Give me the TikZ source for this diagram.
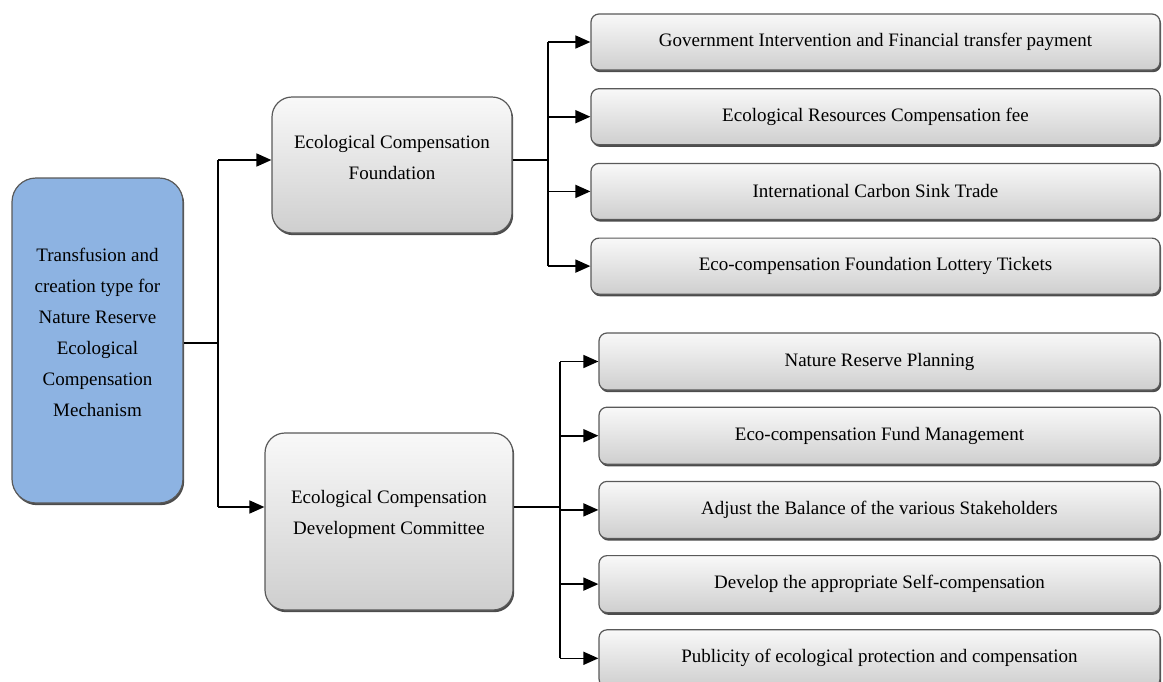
\documentclass[tikz,border=0pt]{standalone}
\usepackage{fontspec}
\setmainfont{Liberation Serif}
\usetikzlibrary{positioning,arrows.meta,shadows}
\definecolor{rootblue}{HTML}{8DB3E2}

\begin{document}
\begin{tikzpicture}[
  x=0.5pt, y=-0.5pt,
  boxbase/.style={
    draw=gray!70!black,
    line width=0.6pt,
    rounded corners=4pt,
    align=center,
    font=\fontsize{9.5}{15.5}\selectfont,
    general shadow={fill=black!70, shadow xshift=0.6pt, shadow yshift=-1.1pt}
  },
  graybox/.style={
    boxbase,
    top color=gray!5,
    bottom color=gray!38
  },
  rootbox/.style={
    boxbase,
    fill=rootblue,
    rounded corners=12pt,
    minimum width=85.5pt,
    minimum height=162.5pt
  },
  midbox/.style={
    graybox,
    rounded corners=10pt
  },
  fundbox/.style={
    graybox,
    minimum width=284.5pt,
    minimum height=28pt
  },
  commbox/.style={
    graybox,
    minimum width=280.5pt,
    minimum height=28.5pt
  },
  link/.style={line width=0.8pt},
  arr/.style={link, -{Triangle[length=7.5pt, width=6.5pt]}}
]
\useasboundingbox (0,0) rectangle (1163,681);

% left and middle column
\node[rootbox] (root) at (97.5,340.5) {Transfusion and\\creation type for\\Nature Reserve\\Ecological\\Compensation\\Mechanism\\[-7.5pt]\mbox{}};
\node[midbox, minimum width=120pt, minimum height=68pt] (ecf) at (392,165) {Ecological Compensation\\Foundation\\[-7.5pt]\mbox{}};
\node[midbox, minimum width=124pt, minimum height=88.5pt] (ecdc) at (389,521.5) {Ecological Compensation\\Development Committee\\[-6pt]\mbox{}};

% foundation sources
\node[fundbox] (fd1) at (875.5,42) {Government Intervention and Financial transfer payment};
\node[fundbox, below=8.75pt of fd1] (fd2) {Ecological Resources Compensation fee};
\node[fundbox, below=8.75pt of fd2] (fd3) {International Carbon Sink Trade};
\node[fundbox, below=8.75pt of fd3] (fd4) {Eco-compensation Foundation Lottery Tickets};

% committee tasks
\node[commbox] (cm1) at (879.5,361.5) {Nature Reserve Planning};
\node[commbox, below=8pt of cm1] (cm2) {Eco-compensation Fund Management};
\node[commbox, below=8pt of cm2] (cm3) {Adjust the Balance of the various Stakeholders};
\node[commbox, below=8pt of cm3] (cm4) {Develop the appropriate Self-compensation};
\node[commbox, below=8pt of cm4] (cm5) {Publicity of ecological protection and compensation};

% connectors
\coordinate (ecf-in) at ([yshift=2.5pt]ecf.west);
\coordinate (ecf-out) at ([yshift=2.5pt]ecf.east);
\coordinate (ecdc-in) at ([yshift=7.25pt]ecdc.west);
\coordinate (ecdc-out) at ([yshift=7.25pt]ecdc.east);
\coordinate (rootfork) at (218,343);
\coordinate (fundfork) at (548,160);
\coordinate (commfork) at (560,507);

\draw[link] (root.east |- rootfork) -- (rootfork);
\draw[link] (rootfork |- ecf-in) -- (rootfork |- ecdc-in);
\draw[arr] (rootfork |- ecf-in) -- (ecf-in);
\draw[arr] (rootfork |- ecdc-in) -- (ecdc-in);

\draw[link] (ecf-out) -- (fundfork);
\draw[link] (fundfork |- fd1.west) -- (fundfork |- fd4.west);
\foreach \i in {1,...,4}
  \draw[arr] (fundfork |- fd\i.west) -- (fd\i.west);

\draw[link] (ecdc-out) -- (commfork);
\draw[link] (commfork |- cm1.west) -- (commfork |- cm5.west);
\foreach \i in {1,...,5}
  \draw[arr] (commfork |- cm\i.west) -- (cm\i.west);

\end{tikzpicture}
\end{document}
